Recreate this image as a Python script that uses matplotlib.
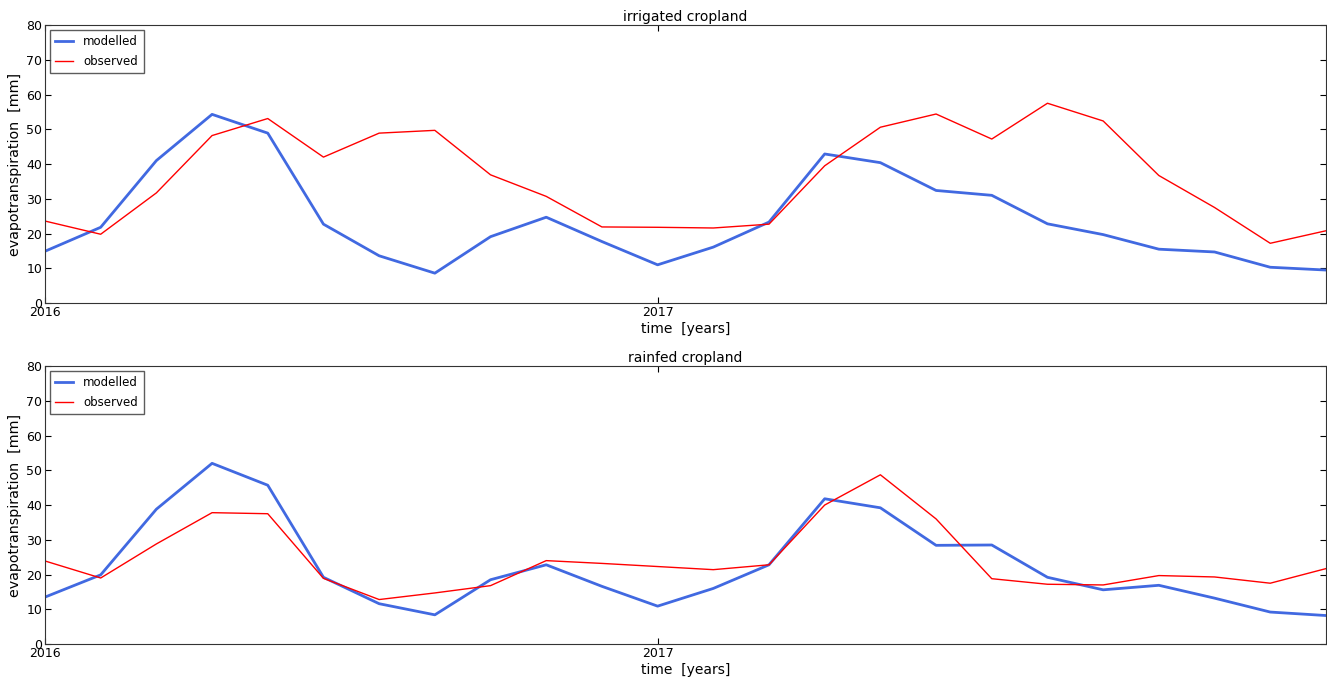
import numpy as np
import matplotlib
matplotlib.use('Agg')
import matplotlib.pyplot as plt

# one value every 1/11 year, starting 2016
steps = np.arange(24)
years = 2016 + steps / 11.0

irrigated_modelled = [14.9, 21.8, 41.0, 54.3, 48.9, 22.7, 13.6, 8.6, 19.1, 24.7, 17.7, 11.0,
                      16.1, 23.3, 42.9, 40.4, 32.4, 31.0, 22.8, 19.7, 15.5, 14.7, 10.3, 9.5]
irrigated_observed = [23.6, 19.8, 31.7, 48.2, 53.1, 42.0, 48.9, 49.7, 36.9, 30.7, 21.9, 21.8,
                      21.6, 22.7, 39.5, 50.6, 54.4, 47.2, 57.5, 52.4, 36.7, 27.5, 17.2, 20.8]
rainfed_modelled = [13.5, 19.9, 38.8, 52.0, 45.7, 19.2, 11.6, 8.4, 18.5, 22.8, 16.6, 10.9,
                    16.0, 22.8, 41.8, 39.2, 28.4, 28.5, 19.2, 15.6, 16.9, 13.2, 9.2, 8.2]
rainfed_observed = [23.9, 19.0, 28.8, 37.8, 37.5, 18.9, 12.8, 14.7, 16.8, 24.0, 23.2, 22.3,
                    21.4, 22.8, 40.0, 48.7, 36.0, 18.8, 17.2, 17.0, 19.7, 19.3, 17.5, 21.7]

panels = [('irrigated cropland', irrigated_modelled, irrigated_observed),
          ('rainfed cropland', rainfed_modelled, rainfed_observed)]

fig = plt.figure(figsize=(13.27, 6.81), dpi=100, facecolor='white')
bottoms = [0.555, 0.0543]

for (title, modelled, observed), bottom in zip(panels, bottoms):
    ax = fig.add_axes([0.0339, bottom, 0.9653, 0.4082])
    ax.plot(years, modelled, color='royalblue', lw=2, label='modelled')
    ax.plot(years, observed, color='red', lw=1, label='observed')
    ax.set_xlim(years[0], years[-1])
    ax.set_ylim(0, 80)
    ax.set_yticks(np.arange(0, 81, 10))
    ax.set_xticks([2016, 2017])
    ax.set_xticklabels(['2016', '2017'])
    ax.tick_params(direction='in', top=True, right=True, labelsize=9, length=4, pad=2)
    ax.set_title(title, fontsize=10, pad=3)
    ax.set_xlabel('time  [years]', fontsize=10, labelpad=2)
    ax.set_ylabel('evapotranspiration  [mm]', fontsize=10.3, labelpad=3)
    for s in ax.spines.values():
        s.set_color('#333333')
    leg = ax.legend(loc='upper left', fontsize=8.5, fancybox=False, handlelength=1.5,
                    handletextpad=0.9, borderaxespad=0.4, labelspacing=0.6,
                    borderpad=0.45)
    leg.get_frame().set_edgecolor('#333333')

fig.savefig('out.png', dpi=100, facecolor='white')
